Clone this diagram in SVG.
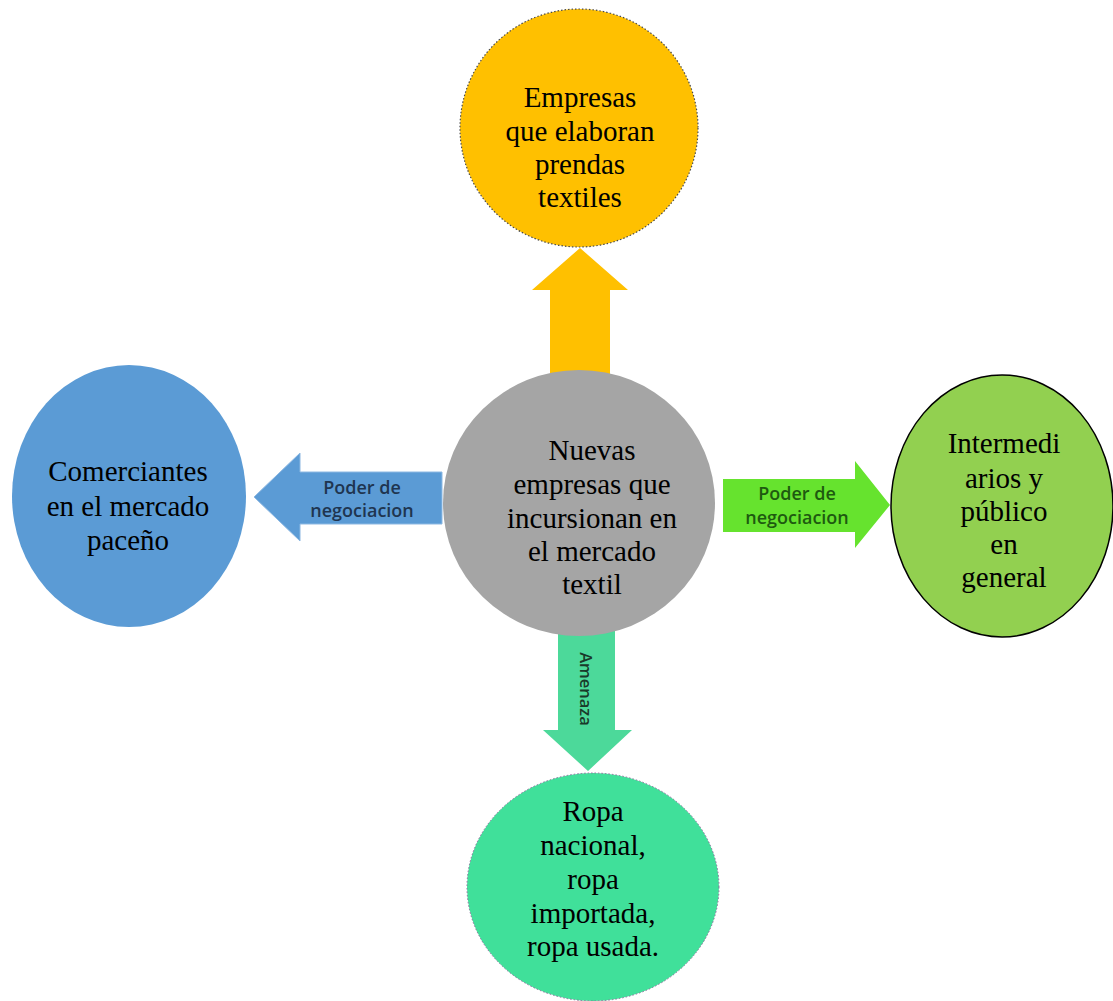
<svg xmlns="http://www.w3.org/2000/svg" width="1113" height="1001" viewBox="0 0 1113 1001">
<style>
.t{font-family:"Liberation Serif","Times New Roman",serif;font-size:29px;fill:#000;text-anchor:middle}
.a{font-family:"Open Sans","Liberation Sans",sans-serif;font-size:18px;font-weight:600;text-anchor:middle}
.v{font-size:16.5px}
</style>
<rect width="1113" height="1001" fill="#fff"/>
<g id="connectors">
<path id="arrow-up" d="M550,385 L550,290 L532,290 L580,248 L628,290 L610,290 L610,385 Z" fill="#FFC000"/>
<path id="arrow-left" d="M442,472 L300,472 L300,453 L254,497 L300,541 L300,524 L442,524 Z" fill="#5B9BD5" stroke="#8DB8E2" stroke-width="1"/>
<path id="arrow-right" d="M723,479 L855,479 L855,461 L890,505 L855,548 L855,532 L723,532 Z" fill="#66E32E"/>
<path id="arrow-down" d="M558,625 L558,730 L543,730 L588,771 L632,730 L615,730 L615,625 Z" fill="#4CD99A"/>
</g>
<g id="node-top">
<circle cx="579" cy="128" r="119" fill="#FFC000" stroke="#4a4a4a" stroke-width="1.2" stroke-dasharray="1.5 2"/>
<text class="t" x="580" y="107">Empresas</text>
<text class="t" x="580" y="141">que elaboran</text>
<text class="t" x="580" y="174">prendas</text>
<text class="t" x="580" y="207">textiles</text>
</g>
<g id="node-center">
<ellipse cx="579" cy="503" rx="136" ry="133" fill="#A5A5A5"/>
<text class="t" x="592" y="460">Nuevas</text>
<text class="t" x="592" y="494">empresas que</text>
<text class="t" x="592" y="528">incursionan en</text>
<text class="t" x="592" y="561">el mercado</text>
<text class="t" x="592" y="594">textil</text>
</g>
<g id="node-left">
<ellipse cx="129" cy="496" rx="117" ry="131" fill="#5B9BD5"/>
<text class="t" x="128" y="481">Comerciantes</text>
<text class="t" x="128" y="516">en el mercado</text>
<text class="t" x="128" y="550">paceño</text>
</g>
<g id="node-right">
<ellipse cx="1002" cy="506" rx="111" ry="131" fill="#92D050" stroke="#000" stroke-width="1.5"/>
<text class="t" x="1004" y="453">Intermedi</text>
<text class="t" x="1004" y="488">arios y</text>
<text class="t" x="1004" y="521">público</text>
<text class="t" x="1004" y="554">en</text>
<text class="t" x="1004" y="587">general</text>
</g>
<g id="node-bottom">
<ellipse cx="593" cy="887" rx="126" ry="114" fill="#40E09A" stroke="#8a6a9a" stroke-width="1" stroke-dasharray="1.5 2"/>
<text class="t" x="593" y="821">Ropa</text>
<text class="t" x="593" y="855">nacional,</text>
<text class="t" x="593" y="889">ropa</text>
<text class="t" x="593" y="923">importada,</text>
<text class="t" x="593" y="956">ropa usada.</text>
</g>
<g id="labels">
<text class="a" x="362" y="494" fill="#1F3550">Poder de</text>
<text class="a" x="362" y="517" fill="#1F3550">negociacion</text>
<text class="a" x="797" y="500" fill="#1E5A10">Poder de</text>
<text class="a" x="797" y="524" fill="#1E5A10">negociacion</text>
<text class="a v" x="0" y="0" fill="#1A3A2A" transform="translate(580,689) rotate(90)">Amenaza</text>
</g>
</svg>
